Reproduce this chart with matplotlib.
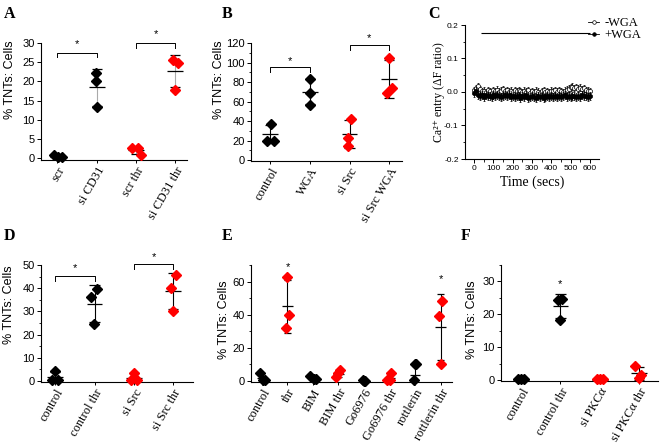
import numpy as np
import matplotlib
matplotlib.use('Agg')
import matplotlib.pyplot as plt
from matplotlib.ticker import MultipleLocator
from matplotlib.lines import Line2D

SANS = 'Liberation Sans'
SERIF = 'Liberation Serif'
RED = '#ff0000'
W, H = 660, 444

# ---- data ----
# A
a_labels = ['scr', 'si CD31', 'scr thr', 'si CD31 thr']
a_points = [[0.8, 0.3, 0.2], [22.3, 20.0, 13.2], [2.6, 2.6, 0.8], [25.6, 24.9, 17.8]]
a_mean = [0.4, 18.5, 2.0, 22.8]
a_sd = [0.3, 4.8, 1.0, 4.2]
a_colors = ['k', 'k', RED, RED]

# B
b_labels = ['control', 'WGA', 'si Src', 'si Src WGA']
b_points = [[37, 20, 20], [83, 69, 56], [42, 23, 14], [105, 74, 69]]
b_mean = [26.5, 70, 26.5, 83.5]
b_sd = [9.5, 13.0, 14.5, 19.5]
b_colors = ['k', 'k', RED, RED]

# C  (time course, every 10 s)
c_time = list(range(0, 601, 10))
c_minus = [0.005, 0.012, 0.018, 0.008, 0.002, 0.004, 0.000, 0.006, 0.003, -0.002,
           0.005, 0.002, 0.007, 0.001, 0.004, 0.008, 0.003, 0.006, 0.001, 0.004,
           0.000, 0.005, 0.002, 0.006, 0.003, -0.001, 0.004, 0.001, 0.005, -0.002,
           0.003, 0.000, 0.004, 0.001, -0.003, 0.002, 0.005, 0.000, 0.003, -0.001,
           0.004, 0.002, 0.005, 0.001, 0.006, 0.003, 0.000, 0.004, 0.007, 0.010,
           0.014, 0.016, 0.012, 0.015, 0.010, 0.013, 0.008, 0.011, 0.006, 0.004,
           0.002]
c_plus = [-0.004, 0.004, -0.008, -0.012, -0.010, -0.014, -0.009, -0.013, -0.011, -0.015,
          -0.010, -0.013, -0.008, -0.012, -0.016, -0.011, -0.009, -0.013, -0.010, -0.014,
          -0.012, -0.016, -0.011, -0.013, -0.017, -0.012, -0.015, -0.010, -0.018, -0.014,
          -0.012, -0.016, -0.019, -0.013, -0.015, -0.011, -0.017, -0.014, -0.012, -0.016,
          -0.013, -0.015, -0.011, -0.014, -0.012, -0.016, -0.013, -0.010, -0.014, -0.012,
          -0.015, -0.011, -0.013, -0.016, -0.012, -0.014, -0.010, -0.013, -0.011, -0.015,
          -0.012]
c_err_minus = 0.010
c_err_plus = 0.012
c_bar = (35, 600, 0.175)

# D
d_labels = ['control', 'control thr', 'si Src', 'si Src thr']
d_points = [[4.2, 0.3, 0.3], [39.5, 36.0, 24.5], [3.3, 0.3, 0.3], [45.8, 40.0, 30.3]]
d_mean = [1.5, 33.3, 1.2, 38.7]
d_sd = [2.5, 7.9, 2.1, 7.9]
d_colors = ['k', 'k', RED, RED]

# E
e_labels = ['control', 'thr', 'BIM', 'BIM thr', 'Go6976', 'Go6976 thr', 'rottlerin', 'rottlerin thr']
e_points = [[5.0, 0.5, 0.5], [62.5, 40.0, 32.0], [3.2, 1.2, 1.0], [6.5, 5.0, 2.5],
            [0.5, 0.3, 0.3], [5.0, 0.5, 0.5], [10.0, 10.0, 0.8], [48.5, 39.0, 10.0]]
e_mean = [2.0, 45.0, 1.8, 4.5, 0.3, 2.0, 3.7, 32.5]
e_sd = [2.9, 16.0, 1.2, 2.0, 0.2, 2.6, 5.5, 20.0]
e_colors = ['k', RED] * 4

# F
f_labels = ['control', 'control thr', 'si PKC\u03b1', 'si PKC\u03b1 thr']
f_points = [[0.2, 0.2, 0.2], [24.8, 24.2, 18.2], [0.2, 0.2, 0.2], [4.4, 1.6, 0.6]]
f_mean = [0.1, 22.5, 0.1, 2.1]
f_sd = [0.1, 3.6, 0.1, 2.0]
f_colors = ['k', 'k', RED, RED]

# horizontal spread of the dots (layout only)
a_jit = [[-0.1, 0.02, 0.12], [-0.02, -0.02, 0.0], [-0.1, 0.05, 0.12], [-0.06, 0.08, 0.0]]
b_jit = [[0.02, -0.08, 0.1], [0, 0, 0], [0.03, -0.05, -0.05], [0.0, 0.07, -0.06]]
d_jit = [[0.0, -0.08, 0.08], [0.06, -0.08, -0.02], [0.0, -0.08, 0.08], [0.06, -0.05, 0.0]]
e_jit = [[-0.06, 0.06, 0.1], [0.0, 0.07, -0.04], [-0.1, 0.05, 0.12], [0.05, -0.02, -0.1],
         [-0.05, 0.05, 0.0], [0.07, -0.1, 0.0], [0.0, 0.05, -0.05], [0.07, -0.05, 0.0]]
f_jit = [[-0.08, 0.0, 0.08], [0.04, -0.06, 0.0], [-0.08, 0.0, 0.08], [-0.1, 0.05, 0.0]]


def px_axes(left, top, right, bottom):
    # pixel box -> figure fraction box
    return [left / W, 1 - bottom / H, (right - left) / W, (bottom - top) / H]


def style_axis(ax):
    for s in ['top', 'right']:
        ax.spines[s].set_visible(False)
    for s in ['left', 'bottom']:
        ax.spines[s].set_linewidth(0.8)
    ax.tick_params(which='major', direction='out', length=3, width=0.7, pad=1.5)
    ax.tick_params(which='minor', direction='out', length=1.8, width=0.6)


def dot_panel(ax, labels, points, mean, sd, colors, jit, vline='k'):
    style_axis(ax)
    for i in range(len(labels)):
        m, s = mean[i], sd[i]
        ax.vlines(i, m - s, m + s, color=vline, lw=0.8, zorder=1)
        ax.hlines(m, i - 0.2, i + 0.2, color='k', lw=0.9, zorder=2)
        ax.hlines([m - s, m + s], i - 0.13, i + 0.13, color='k', lw=0.9, zorder=2)
        xs = [i + j for j in jit[i]]
        ax.plot(xs, points[i], ls='none', marker='D', ms=4.8, color=colors[i],
                mec=colors[i], zorder=3, clip_on=False)
    ax.set_xticks(range(len(labels)))
    ax.set_xticklabels(labels, rotation=60, ha='right', rotation_mode='anchor',
                       fontfamily=SERIF, fontsize=9)
    ax.tick_params(axis='x', length=2)
    for t in ax.get_yticklabels():
        t.set_fontfamily(SANS)
        t.set_fontsize(8)


def bracket(ax, x0, x1, y, leg, star_y):
    ax.plot([x0, x0, x1, x1], [y - leg, y, y, y - leg], color='k', lw=0.7, clip_on=False)
    ax.text((x0 + x1) / 2, star_y, '*', ha='center', va='center', fontsize=8,
            fontfamily=SANS)


def star(ax, x, y):
    ax.text(x, y, '*', ha='center', va='center', fontsize=8, fontfamily=SANS)


fig = plt.figure(figsize=(W / 100, H / 100), dpi=100)

# ---------------- A ----------------
axA = fig.add_axes(px_axes(41, 43, 187, 160))
dot_panel(axA, a_labels, a_points, a_mean, a_sd, a_colors, a_jit, vline='#aaaaaa')
axA.set_xlim(-0.42, 3.3)
axA.set_ylim(-0.5, 30)
axA.yaxis.set_major_locator(MultipleLocator(5))
bracket(axA, 0, 1, 27.5, 1.1, 29.6)
bracket(axA, 2, 3, 30.0, 1.3, 32.4)

# ---------------- B ----------------
axB = fig.add_axes(px_axes(251, 43, 402, 161))
dot_panel(axB, b_labels, b_points, b_mean, b_sd, b_colors, b_jit)
axB.set_xlim(-0.48, 3.32)
axB.set_ylim(-1, 120)
axB.yaxis.set_major_locator(MultipleLocator(20))
axB.yaxis.set_minor_locator(MultipleLocator(10))
bracket(axB, 0, 1, 95, 5, 101)
bracket(axB, 2, 3, 118, 5, 125)

# ---------------- C ----------------
axC = fig.add_axes(px_axes(465, 25, 599, 159))
style_axis(axC)
axC.errorbar(c_time, c_minus, yerr=c_err_minus, fmt='o', ms=3, mfc='white', mec='k',
             mew=0.5, ecolor='k', elinewidth=0.6, capsize=0.8, zorder=2)
axC.errorbar(c_time, c_plus, yerr=c_err_plus, fmt='o', ms=3, mfc='k', mec='k',
             mew=0.5, ecolor='k', elinewidth=0.6, capsize=0.8, zorder=3)
axC.hlines(c_bar[2], c_bar[0], c_bar[1], color='k', lw=0.8)
axC.set_xlim(-48, 648)
axC.set_ylim(-0.2, 0.2)
axC.xaxis.set_major_locator(MultipleLocator(100))
axC.xaxis.set_minor_locator(MultipleLocator(50))
axC.yaxis.set_minor_locator(MultipleLocator(0.05))
axC.set_yticks([-0.2, -0.1, 0.0, 0.1, 0.2])
axC.set_yticklabels(['-0.2', '-0.1', '0.0', '0.1', '0.2'])
for t in axC.get_xticklabels() + axC.get_yticklabels():
    t.set_fontfamily(SANS)
    t.set_fontsize(6)
axC.set_xlabel('Time (secs)', fontfamily=SERIF, fontsize=10, labelpad=2)
axC.set_ylabel('Ca\u00b2\u207a entry (\u0394F ratio)', fontfamily=[SERIF, 'DejaVu Serif'],
               fontsize=8.5)
axC.yaxis.set_label_coords(-0.15, 0.5)
handles = [Line2D([], [], color='k', lw=0.6, marker='o', ms=2.6, mfc='white', mec='k', mew=0.5),
           Line2D([], [], color='k', lw=0.6, marker='o', ms=2.6, mfc='k', mec='k', mew=0.5)]
fig.legend(handles, ['-WGA', '+WGA'], loc='upper left',
           bbox_to_anchor=(588 / W, 1 - 17 / H), frameon=False,
           prop={'family': SERIF, 'size': 9}, handlelength=0.9, handletextpad=0.4,
           labelspacing=0.0, borderpad=0, borderaxespad=0)

# ---------------- D ----------------
axD = fig.add_axes(px_axes(41, 265, 193, 382))
dot_panel(axD, d_labels, d_points, d_mean, d_sd, d_colors, d_jit)
axD.set_xlim(-0.36, 3.5)
axD.set_ylim(-0.5, 50)
axD.yaxis.set_major_locator(MultipleLocator(10))
axD.yaxis.set_minor_locator(MultipleLocator(5))
bracket(axD, 0, 1, 45.3, 2.2, 48.6)
bracket(axD, 2, 3, 50.4, 2.0, 53.6)

# ---------------- E ----------------
axE = fig.add_axes(px_axes(251, 265, 452, 382))
dot_panel(axE, e_labels, e_points, e_mean, e_sd, e_colors, e_jit)
axE.set_xlim(-0.43, 7.45)
axE.set_ylim(-0.6, 70)
axE.yaxis.set_major_locator(MultipleLocator(20))
axE.yaxis.set_minor_locator(MultipleLocator(10))
star(axE, 1, 69)
star(axE, 7, 61.5)

# ---------------- F ----------------
axF = fig.add_axes(px_axes(501, 265, 658, 381))
dot_panel(axF, f_labels, f_points, f_mean, f_sd, f_colors, f_jit)
axF.set_xlim(-0.51, 3.48)
axF.set_ylim(-0.3, 35)
axF.yaxis.set_major_locator(MultipleLocator(10))
axF.yaxis.set_minor_locator(MultipleLocator(5))
star(axF, 1, 29.3)

# y labels of the dot panels, in figure pixels
for (x, y) in [(10, 80), (219, 80), (9, 305), (224, 320), (472, 320)]:
    fig.text(x / W, 1 - y / H, '% TNTs: Cells', rotation=90, ha='center', va='center',
             fontfamily=SANS, fontsize=9)

# panel letters
for (x, y, s) in [(4, 14, 'A'), (222, 14, 'B'), (428, 14, 'C'),
                  (4, 236, 'D'), (222, 236, 'E'), (461, 236, 'F')]:
    fig.text(x / W, 1 - y / H, s, ha='left', va='center', fontfamily=SERIF,
             fontweight='bold', fontsize=11.5)

fig.savefig('out.png', dpi=100)
